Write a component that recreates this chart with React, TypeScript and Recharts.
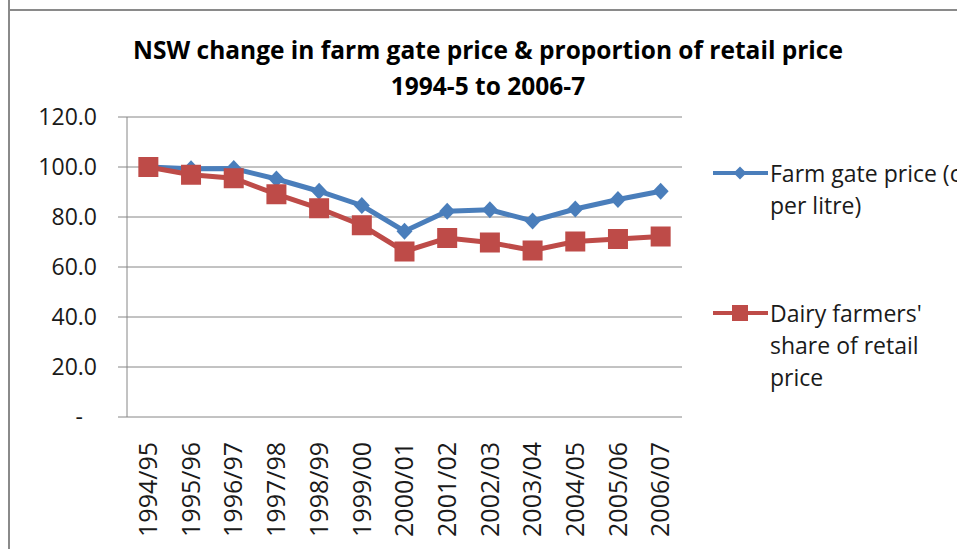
import React from "react";
import { LineChart, Line, XAxis, YAxis, CartesianGrid } from "recharts";

// seasons along the x axis
const seasons = [
  "1994/95", "1995/96", "1996/97", "1997/98", "1998/99", "1999/00", "2000/01",
  "2001/02", "2002/03", "2003/04", "2004/05", "2005/06", "2006/07",
];
// index, 1994/95 = 100
const farmGatePrice = [100, 99.3, 99.4, 95.2, 90.3, 84.6, 74.3, 82.3, 82.9, 78.4, 83.2, 87.0, 90.3];
const farmerShare = [100, 96.9, 95.5, 89.1, 83.5, 76.7, 66.2, 71.6, 69.8, 66.6, 70.2, 71.2, 72.2];
const yTicks = [0, 20, 40, 60, 80, 100, 120];

const titleLines = ["NSW change in farm gate price & proportion of retail price", "1994-5 to 2006-7"];
const farmLegendLines = ["Farm gate price (c", "per litre)"];
const shareLegendLines = ["Dairy farmers'", "share of retail", "price"];

const BLUE = "#4A7EBB";
const RED = "#BE4B48";
const GREY = "#868686";
const TEXT = "#1a1a1a";
const FONT = "'Open Sans', sans-serif";

const data = seasons.map((s, i) => ({
  x: i + 0.5,
  season: s,
  farm: farmGatePrice[i],
  share: farmerShare[i],
}));
const boundTicks = seasons.map((_, i) => i).concat(seasons.length);
const centerTicks = data.map((d) => d.x);

// recharts passes its own r / fill to dots, so use other prop names
function Diamond({ cx, cy, hw = 8, hh = 8.5, color = BLUE }: any) {
  if (cx == null || cy == null) return null;
  return (
    <polygon
      points={`${cx},${cy - hh} ${cx + hw},${cy} ${cx},${cy + hh} ${cx - hw},${cy}`}
      fill={color}
    />
  );
}

function Square({ cx, cy, half = 10, color = RED }: any) {
  if (cx == null || cy == null) return null;
  return <rect x={cx - half} y={cy - half} width={half * 2} height={half * 2} fill={color} />;
}

function SeasonTick({ x, y, payload }: any) {
  const label = seasons[Math.floor(payload.value)];
  return (
    <text
      x={x}
      y={y}
      transform={`rotate(-90, ${x}, ${y})`}
      textAnchor="end"
      dy="0.35em"
      fontSize={25}
      fontFamily={FONT}
      fill={TEXT}
    >
      {label}
    </text>
  );
}

function ValueTick({ x, y, payload }: any) {
  const v = payload.value;
  return (
    <text
      x={x}
      y={y}
      dx={v === 0 ? -14 : 0}
      dy="0.355em"
      textAnchor="end"
      fontSize={23}
      fontFamily={FONT}
      fill={TEXT}
    >
      {v === 0 ? "-" : v.toFixed(1)}
    </text>
  );
}

function LegendItem({ top, lines, color, marker }: any) {
  return (
    <div style={{ position: "absolute", left: 713, top, display: "flex" }}>
      <svg width={55} height={32} style={{ flexShrink: 0 }}>
        <line x1={0} y1={16} x2={55} y2={16} stroke={color} strokeWidth={4} />
        {marker === "diamond" ? (
          <Diamond cx={27} cy={16} hw={6.5} hh={6.5} />
        ) : (
          <Square cx={27} cy={16} half={8} />
        )}
      </svg>
      <div style={{ marginLeft: 2, fontFamily: FONT, fontSize: 23, lineHeight: "32px", color: TEXT, whiteSpace: "nowrap" }}>
        {lines.map((l: string) => (
          <div key={l}>{l}</div>
        ))}
      </div>
    </div>
  );
}

export default function App() {
  return (
    <div
      style={{
        position: "absolute",
        left: 0,
        top: 0,
        width: 957,
        height: 549,
        background: "#fff",
        overflow: "hidden",
      }}
    >
      {/* chart frame (cropped) */}
      <div style={{ position: "absolute", left: 8, top: 0, width: 2, height: 549, background: "#8a8a8a" }} />
      <div style={{ position: "absolute", left: 8, top: 9, width: 949, height: 2, background: "#8a8a8a" }} />

      <div
        style={{
          position: "absolute",
          left: 0,
          top: 32,
          width: 976,
          textAlign: "center",
          fontFamily: FONT,
          fontWeight: 700,
          fontSize: 24.5,
          lineHeight: "36px",
          color: "#000",
        }}
      >
        {titleLines.map((t) => (
          <div key={t}>{t}</div>
        ))}
      </div>

      <div style={{ position: "absolute", left: 0, top: 0 }}>
        <LineChart
          width={957}
          height={549}
          data={data}
          margin={{ top: 117, right: 275, bottom: 0, left: 0 }}
        >
          <CartesianGrid vertical={false} stroke={GREY} xAxisId="c" />
          <XAxis
            xAxisId="b"
            type="number"
            dataKey="x"
            domain={[0, seasons.length]}
            allowDataOverflow
            ticks={boundTicks}
            interval={0}
            tickSize={10}
            height={0}
            stroke={GREY}
            tick={() => <g />}
          />
          <XAxis
            xAxisId="c"
            type="number"
            dataKey="x"
            domain={[0, seasons.length]}
            allowDataOverflow
            ticks={centerTicks}
            interval={0}
            axisLine={false}
            tickLine={false}
            tickSize={0}
            tickMargin={25}
            height={132}
            tick={<SeasonTick />}
          />
          <YAxis
            width={127}
            domain={[0, 120]}
            ticks={yTicks}
            interval={0}
            tickSize={9}
            tickMargin={21}
            stroke={GREY}
            tick={<ValueTick />}
          />
          <Line
            xAxisId="c"
            dataKey="farm"
            name="Farm gate price (c per litre)"
            stroke={BLUE}
            strokeWidth={5}
            dot={<Diamond />}
            activeDot={false}
            isAnimationActive={false}
          />
          <Line
            xAxisId="c"
            dataKey="share"
            name="Dairy farmers' share of retail price"
            stroke={RED}
            strokeWidth={5}
            dot={<Square />}
            activeDot={false}
            isAnimationActive={false}
          />
        </LineChart>
      </div>

      <LegendItem top={157} lines={farmLegendLines} color={BLUE} marker="diamond" />
      <LegendItem top={297} lines={shareLegendLines} color={RED} marker="square" />
    </div>
  );
}
